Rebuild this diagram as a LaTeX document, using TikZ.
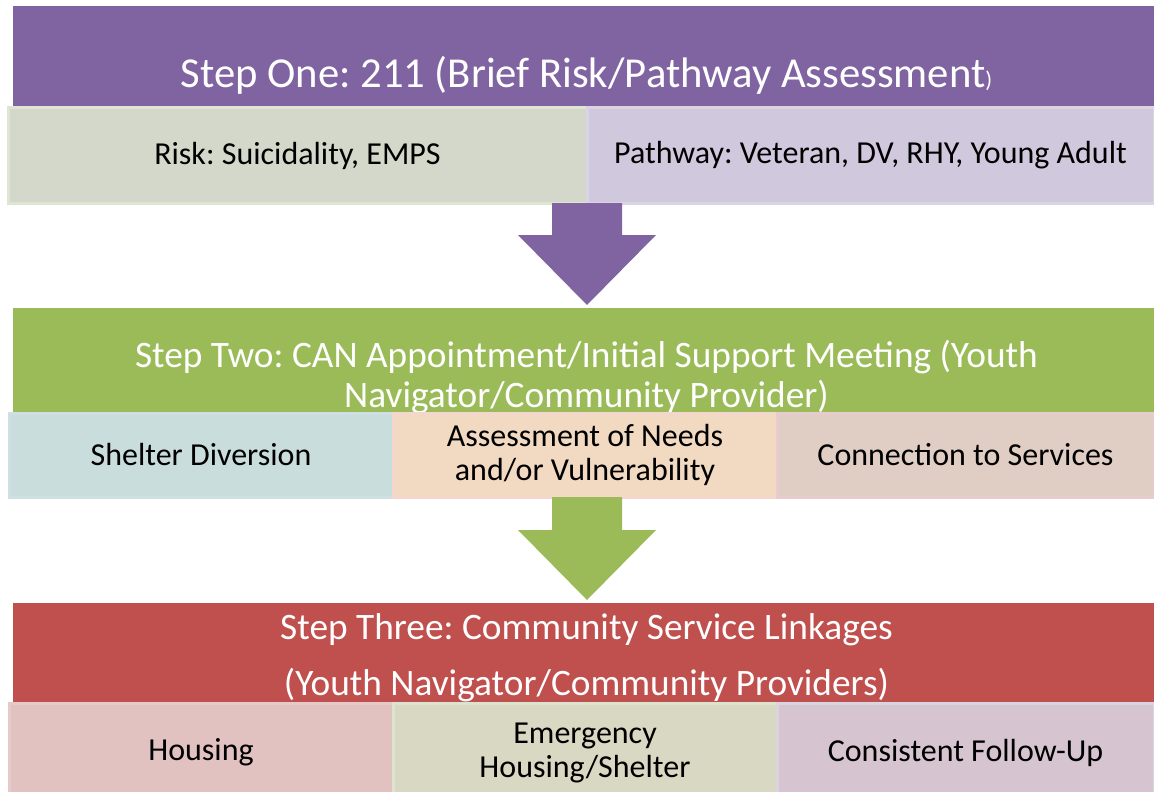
\documentclass[tikz,border=0pt]{standalone}
\usepackage{fontspec}
\setmainfont{Carlito}
\usetikzlibrary{positioning,calc}
\frenchspacing

\definecolor{stepone}{HTML}{8064A2}
\definecolor{steptwo}{HTML}{9BBB59}
\definecolor{stepthree}{HTML}{C0504D}

\begin{document}
\begin{tikzpicture}[x=0.75pt, y=-0.75pt, node distance=0pt,
        header/.style={anchor=north west, inner sep=0pt, outer sep=0pt, minimum width=855.75pt},
        headtext/.style={text=white, align=center, font=\fontsize{28}{30}\selectfont},
        box/.style={inner sep=0pt, outer sep=0pt, line width=2.25pt, align=center,
            font=\fontsize{24}{25.5}\selectfont}]
        \useasboundingbox (0,0) rectangle (1154,792);

        % step one
        \node[header, fill=stepone, minimum height=76.5pt] (one) at (13,6) {};
        \node[headtext, font=\fontsize{32}{34}\selectfont] (onetext) at ($(one.center)+(3,18)$)
            {Step One: 211 (Brief Risk/Pathway Assessment{\fontsize{17}{18}\selectfont)}};
        \node[box, anchor=north west, fill={rgb,255:red,212;green,216;blue,202}, draw={rgb,255:red,221;green,230;blue,208},
            minimum width=434.25pt, minimum height=71.25pt] (risk) at (8,108) {Risk: Suicidality, EMPS};
        \node[box, fill={rgb,255:red,208;green,200;blue,220}, draw={rgb,255:red,219;green,213;blue,227},
            minimum width=425.25pt, minimum height=71.25pt, right=of risk] (path) {Pathway: Veteran, DV, RHY, Young Adult};

        % step two
        \node[header, fill=steptwo, minimum height=78.75pt] (two) at (13,308) {};
        \node[headtext] (twotext) at ($(two.center)+(3,17)$)
            {Step Two: CAN Appointment/Initial Support Meeting (Youth\\Navigator/Community Provider)};
        \node[box, anchor=north west, fill={rgb,255:red,201;green,222;blue,220}, draw={rgb,255:red,207;green,224;blue,229},
            minimum width=288pt, minimum height=63pt] (divert) at (9,413) {Shelter Diversion};
        \node[box, fill={rgb,255:red,242;green,217;blue,194}, draw={rgb,255:red,245;green,214;blue,204},
            minimum width=288pt, minimum height=63pt, right=of divert] (assess) {Assessment of Needs\\and/or Vulnerability};
        \node[box, fill={rgb,255:red,224;green,205;blue,196}, draw={rgb,255:red,230;green,204;blue,204},
            minimum width=282.75pt, minimum height=63pt, right=of assess] (connect) {Connection to Services};

        % step three
        \node[header, fill=stepthree, minimum height=75pt] (three) at (13,603) {};
        \node[headtext, font=\fontsize{28}{42}\selectfont] (threetext) at ($(three.center)+(3,5)$)
            {Step Three: Community Service Linkages\\(Youth Navigator/Community Providers)};
        \node[box, anchor=north west, fill={rgb,255:red,225;green,194;blue,193}, draw={rgb,255:red,230;green,202;blue,202},
            minimum width=288pt, minimum height=74.25pt] (housing) at (9,703) {Housing};
        \node[box, fill={rgb,255:red,217;green,216;blue,195}, draw={rgb,255:red,220;green,227;blue,207},
            minimum width=288pt, minimum height=74.25pt, right=of housing] (shelter) {Emergency\\Housing/Shelter};
        \node[box, fill={rgb,255:red,214;green,196;blue,208}, draw={rgb,255:red,218;green,212;blue,224},
            minimum width=282.75pt, minimum height=74.25pt, right=of shelter] (follow) {Consistent Follow-Up};

        % block arrows
        \fill[stepone] ($(risk.south east)+(-35,0)$) -- ++(70,0) -- ++(0,32) -- ++(34,0)
            -- ($(risk.south east)+(0,102)$) -- ++(-69,-70) -- ++(34,0) -- cycle;
        \fill[steptwo] ($(assess.south)+(-33,0)$) -- ++(70,0) -- ++(0,33) -- ++(34,0)
            -- ($(assess.south)+(2,103)$) -- ++(-69,-70) -- ++(34,0) -- cycle;
    \end{tikzpicture}
\end{document}
